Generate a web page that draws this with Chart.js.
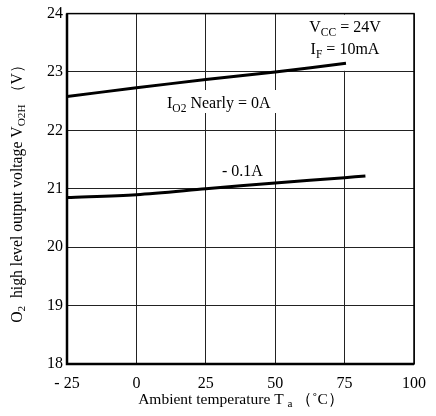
<!DOCTYPE html>
<html>
<head>
<meta charset="utf-8">
<script src="https://cdn.jsdelivr.net/npm/chart.js@4.4.1/dist/chart.umd.min.js"></script>
<style>
  html, body { margin: 0; padding: 0; background: #fff; }
  #wrap { width: 436px; height: 416px; }
</style>
</head>
<body>
<div id="wrap"><canvas id="chart" width="436" height="416"></canvas></div>
<script>
// values
const tempsNoLoad = [-25, 0, 25, 50, 75.5];
const voltsNoLoad = [22.58, 22.73, 22.87, 23.0, 23.15];
const tempsLoad = [-25, 0, 25, 50, 75, 82.5];
const voltsLoad = [20.85, 20.9, 21.0, 21.1, 21.19, 21.22];
const xTicks = [-25, 0, 25, 50, 75, 100];
const yTicks = [18, 19, 20, 21, 22, 23, 24];

const SERIF = "'Liberation Serif', 'Times New Roman', serif";

// draws a run of [text, isSub] pieces, returns total width
function richWidth(ctx, parts, size) {
  let w = 0;
  parts.forEach(p => {
    ctx.font = (p[1] ? size * 0.72 : size) + 'px ' + SERIF;
    w += ctx.measureText(p[0]).width;
  });
  return w;
}

function drawRich(ctx, parts, x, y, size, align) {
  const w = richWidth(ctx, parts, size);
  let cx = align === 'center' ? x - w / 2 : x;
  ctx.textAlign = 'left';
  ctx.textBaseline = 'alphabetic';
  parts.forEach(p => {
    ctx.font = (p[1] ? size * 0.72 : size) + 'px ' + SERIF;
    ctx.fillText(p[0], cx, p[1] ? y + size * 0.22 : y);
    cx += ctx.measureText(p[0]).width;
  });
}

const labels = {
  id: 'labels',
  beforeDatasetsDraw(chart) {
    const ctx = chart.ctx;
    const x = chart.scales.x, y = chart.scales.y;
    ctx.save();
    // white patches behind the notes
    ctx.fillStyle = '#fff';
    ctx.fillRect(x.getPixelForValue(55), y.getPixelForValue(24) + 1, x.getPixelForValue(97) - x.getPixelForValue(55), y.getPixelForValue(23.02) - y.getPixelForValue(24) - 1);
    ctx.fillRect(162, 90, 115, 23);
    ctx.fillStyle = '#000';
    drawRich(ctx, [['V'], ['CC', 1], [' = 24V']], 345, 32, 16, 'center');
    drawRich(ctx, [['I'], ['F', 1], [' = 10mA']], 345, 54, 16, 'center');
    drawRich(ctx, [['I'], ['O2', 1], [' Nearly = 0A']], 167, 108, 16, 'left');
    drawRich(ctx, [['- 0.1A']], 222, 176, 16, 'left');
    ctx.restore();
  },
  afterDraw(chart) {
    const ctx = chart.ctx;
    const a = chart.chartArea;
    ctx.save();
    ctx.strokeStyle = '#000';
    ctx.lineWidth = 1.5;
    ctx.strokeRect(a.left, a.top, a.right - a.left, a.bottom - a.top);
    ctx.lineWidth = 2.5;
    ctx.beginPath();
    ctx.moveTo(a.left, a.top);
    ctx.lineTo(a.left, a.bottom);
    ctx.lineTo(a.right, a.bottom);
    ctx.stroke();
    ctx.fillStyle = '#000';
    // x title
    drawRich(ctx, [['Ambient temperature T '], ['a', 1], [' （˚C）']], 241, 404, 15.5, 'center');
    // y title
    ctx.translate(22, 190);
    ctx.rotate(-Math.PI / 2);
    drawRich(ctx, [['O'], ['2', 1], ['  high level output voltage V'], ['O2H', 1], [' （V）']], 0, 0, 15.7, 'center');
    ctx.restore();
  }
};

new Chart(document.getElementById('chart'), {
  type: 'line',
  data: {
    datasets: [
      {
        label: 'IO2 Nearly = 0A',
        data: tempsNoLoad.map((t, i) => ({ x: t, y: voltsNoLoad[i] })),
        borderColor: '#000',
        borderWidth: 3,
        pointRadius: 0,
        tension: 0.3
      },
      {
        label: '-0.1A',
        data: tempsLoad.map((t, i) => ({ x: t, y: voltsLoad[i] })),
        borderColor: '#000',
        borderWidth: 3,
        pointRadius: 0,
        tension: 0.3
      }
    ]
  },
  options: {
    responsive: false,
    animation: false,
    events: [],
    layout: { padding: { top: 9, right: 14, left: 0, bottom: 0 } },
    plugins: { legend: { display: false }, tooltip: { enabled: false } },
    scales: {
      x: {
        type: 'linear',
        min: -25, max: 100,
        afterFit: s => { s.height = 52; },
        afterBuildTicks: s => { s.ticks = xTicks.map(v => ({ value: v })); },
        grid: { color: '#222', lineWidth: 1, drawTicks: false },
        border: { display: false },
        ticks: {
          color: '#000', padding: 10,
          font: { family: SERIF, size: 16 },
          maxRotation: 0,
          callback: v => v < 0 ? '- ' + Math.abs(v) : String(v)
        }
      },
      y: {
        min: 18, max: 24,
        afterFit: s => { s.width = 67; },
        afterBuildTicks: s => { s.ticks = yTicks.map(v => ({ value: v })); },
        grid: { color: '#222', lineWidth: 1, drawTicks: false },
        border: { display: false },
        ticks: {
          color: '#000', padding: 4,
          font: { family: SERIF, size: 16 }
        }
      }
    }
  },
  plugins: [labels]
});
</script>
</body>
</html>
